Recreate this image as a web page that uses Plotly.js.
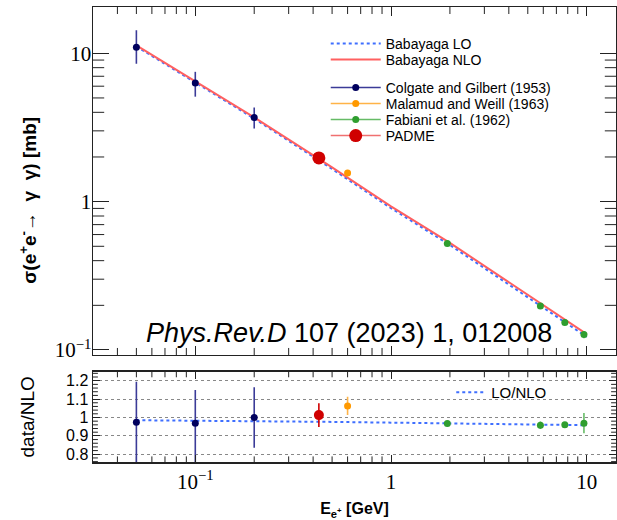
<!DOCTYPE html>
<html><head><meta charset="utf-8">
<script src="https://cdn.plot.ly/plotly-3.0.1.min.js"></script>
<style>html,body{margin:0;padding:0;background:#fff}</style>
</head><body><div id="chart" style="width:617px;height:520px"></div>
<script>
// Theory curves (Babayaga)
const energyTheory = [0.05, 0.1, 0.2, 0.5, 1, 2, 5, 10];
const sigmaNLO = [11.3, 6.5, 3.7, 1.7, 0.93, 0.527, 0.235, 0.128];
const sigmaLO = [11.13, 6.39, 3.63, 1.66, 0.904, 0.510, 0.226, 0.1226];
const ratioLOoverNLO = [0.985, 0.983, 0.981, 0.976, 0.972, 0.967, 0.961, 0.958];

// Colgate and Gilbert (1953)
const colgateE = [0.05, 0.1, 0.2];
const colgateSigma = [11.0, 6.3, 3.69];
const colgateErrUp = [3.3, 1.2, 0.62];
const colgateErrDown = [2.5, 1.2, 0.58];
const colgateRatio = [0.974, 0.969, 1.0];
const colgateRatioErrUp = [0.22, 0.18, 0.165];
const colgateRatioErrDown = [0.25, 0.23, 0.165];

// Malamud and Weill (1963)
const malamudE = [0.6];
const malamudSigma = [1.56];
const malamudErr = [0.075];
const malamudRatio = [1.063];
const malamudRatioErr = [0.05];

// Fabiani et al. (1962)
const fabianiE = [1.94, 5.8, 7.73, 9.68];
const fabianiSigma = [0.523, 0.198, 0.153, 0.127];
const fabianiErr = [0.006, 0.004, 0.003, 0.007];
const fabianiRatio = [0.967, 0.958, 0.961, 0.969];
const fabianiRatioErr = [0.012, 0.02, 0.015, 0.055];

// PADME
const padmeE = [0.428];
const padmeSigma = [1.97];
const padmeErr = [0.13];
const padmeRatio = [1.013];
const padmeRatioErr = [0.065];

// tick labels / tick positions
const logTickVals = [0.1, 1, 10];
const logTickText = ['10<sup>\u22121</sup>', '1', '10'];
const xMinorTicks = [0.04, 0.05, 0.06, 0.07, 0.08, 0.09, 0.2, 0.3, 0.4, 0.5, 0.6, 0.7, 0.8, 0.9,
                     2, 3, 4, 5, 6, 7, 8, 9];
const yMinorTicks = [0.2, 0.3, 0.4, 0.5, 0.6, 0.7, 0.8, 0.9, 2, 3, 4, 5, 6, 7, 8, 9];
const rTickVals = [0.8, 0.9, 1.0, 1.1, 1.2];
const rTickText = ['0.8', '0.9', '1', '1.1', '1.2'];
const rMinorTicks = [0.76, 0.78, 0.82, 0.84, 0.86, 0.88, 0.92, 0.94, 0.96, 0.98,
                     1.02, 1.04, 1.06, 1.08, 1.12, 1.14, 1.16, 1.18, 1.22, 1.24];

// axis ranges (log10 for log axes)
const xRange = [-1.5227, 1.1497];
const yRange = [-1.0337, 1.312];
const rRange = [0.758, 1.249];

// insert gaps so that lines+markers shows a legend line without joining points
function gaps(a) { const r = []; a.forEach((v, i) => { if (i) r.push(null); r.push(v); }); return r; }

const frame = '#222';
const navy = '#00005e', navyErr = '#3b3b98';
const orange = '#ff9900', orangeErr = '#ffb347';
const green = '#2f9e2f', greenErr = '#66bb66';
const red = '#d00000', redLine = '#f07070';

function dataTrace(name, xs, ys, up, down, col, errCol, size, legend) {
  return {
    type: 'scatter', mode: 'lines+markers', name: name,
    x: gaps(xs), y: gaps(ys), connectgaps: false,
    marker: {color: col, size: size},
    line: {color: errCol, width: 1.5},
    error_y: {type: 'data', symmetric: false, array: gaps(up), arrayminus: gaps(down),
              color: errCol, thickness: 1.6, width: 0},
    xaxis: 'x', yaxis: 'y', legend: legend
  };
}
function ratioTrace(xs, ys, up, down, col, errCol, size) {
  return {
    type: 'scatter', mode: 'markers', showlegend: false,
    x: xs, y: ys, marker: {color: col, size: size},
    error_y: {type: 'data', symmetric: false, array: up, arrayminus: down,
              color: errCol, thickness: 1.6, width: 0},
    xaxis: 'x2', yaxis: 'y2'
  };
}
// minor tick marks: short line markers sitting on a frame edge (half clipped away)
function minorTicks(vals, edgeVal, vertical, len, xa, ya) {
  const edge = vals.map(() => edgeVal);
  return {
    type: 'scatter', mode: 'markers', showlegend: false, hoverinfo: 'skip', cliponaxis: true,
    x: vertical ? vals : edge, y: vertical ? edge : vals,
    marker: {symbol: vertical ? 'line-ns' : 'line-ew', size: len * 2,
             color: frame, line: {width: 1, color: frame}},
    xaxis: xa, yaxis: ya
  };
}

const traces = [
  minorTicks(yMinorTicks, Math.pow(10, xRange[0]), false, 8, 'x', 'y'),
  minorTicks(yMinorTicks, Math.pow(10, xRange[1]), false, 8, 'x', 'y'),
  minorTicks(xMinorTicks, Math.pow(10, yRange[0]), true, 5, 'x', 'y'),
  minorTicks(xMinorTicks, Math.pow(10, yRange[1]), true, 5, 'x', 'y'),
  minorTicks(xMinorTicks, rRange[0], true, 4, 'x2', 'y2'),
  minorTicks(xMinorTicks, rRange[1], true, 4, 'x2', 'y2'),
  minorTicks(rMinorTicks, Math.pow(10, xRange[0]), false, 3.5, 'x2', 'y2'),
  minorTicks(rMinorTicks, Math.pow(10, xRange[1]), false, 3.5, 'x2', 'y2'),
  {type: 'scatter', mode: 'lines', name: 'Babayaga LO', x: energyTheory, y: sigmaLO,
   line: {color: '#3f6fff', dash: 'dot', width: 2}, xaxis: 'x', yaxis: 'y', legend: 'legend'},
  {type: 'scatter', mode: 'lines', name: 'Babayaga NLO', x: energyTheory, y: sigmaNLO,
   line: {color: '#ff6060', width: 2}, xaxis: 'x', yaxis: 'y', legend: 'legend2'},
  dataTrace('Colgate and Gilbert (1953)', colgateE, colgateSigma, colgateErrUp, colgateErrDown, navy, navyErr, 7, 'legend3'),
  dataTrace('Malamud and Weill (1963)', malamudE, malamudSigma, malamudErr, malamudErr, orange, orangeErr, 7, 'legend4'),
  dataTrace('Fabiani et al. (1962)', fabianiE, fabianiSigma, fabianiErr, fabianiErr, green, greenErr, 7, 'legend5'),
  dataTrace('PADME', padmeE, padmeSigma, padmeErr, padmeErr, red, redLine, 13, 'legend6'),
  {type: 'scatter', mode: 'lines', name: 'LO/NLO', x: energyTheory, y: ratioLOoverNLO,
   line: {color: '#3f6fff', dash: 'dot', width: 2}, xaxis: 'x2', yaxis: 'y2', legend: 'legend7'},
  ratioTrace(colgateE, colgateRatio, colgateRatioErrUp, colgateRatioErrDown, navy, navyErr, 7),
  ratioTrace(malamudE, malamudRatio, malamudRatioErr, malamudRatioErr, orange, orangeErr, 7),
  ratioTrace(fabianiE, fabianiRatio, fabianiRatioErr, fabianiRatioErr, green, greenErr, 7),
  ratioTrace(padmeE, padmeRatio, padmeRatioErr, padmeRatioErr, red, red, 10)
];

const baseAxis = {
  showline: true, linecolor: frame, linewidth: 1.5, mirror: 'allticks',
  ticks: 'inside', tickcolor: frame, tickwidth: 1, showgrid: false, zeroline: false,
  tickmode: 'array'
};
const serif = {family: 'Liberation Serif, Times New Roman, serif', size: 21, color: '#000'};

function legendAt(yPaper, xPaper, size) {
  return {x: xPaper, y: yPaper, xanchor: 'left', yanchor: 'top', bgcolor: 'rgba(0,0,0,0)',
          font: {size: size, color: '#000'}, itemwidth: 50, tracegroupgap: 0};
}
function pix(p) { return (462 - p) / 455; }

const layout = {
  width: 617, height: 520,
  margin: {l: 93, r: 1, t: 7, b: 58},
  paper_bgcolor: '#fff', plot_bgcolor: '#fff',
  font: {family: 'Liberation Sans, Arial, sans-serif', color: '#000'},
  xaxis: Object.assign({}, baseAxis, {
    type: 'log', range: xRange, domain: [0, 1], anchor: 'y',
    tickvals: logTickVals, showticklabels: false, ticklen: 9
  }),
  yaxis: Object.assign({}, baseAxis, {
    type: 'log', range: yRange, domain: [0.2352, 1], anchor: 'x',
    tickvals: logTickVals, ticktext: logTickText, ticklen: 16, tickfont: serif,
    ticklabelstandoff: -4
  }),
  xaxis2: Object.assign({}, baseAxis, {
    type: 'log', range: xRange, domain: [0, 1], anchor: 'y2',
    tickvals: logTickVals, ticktext: logTickText, ticklen: 7, tickfont: serif,
    title: {text: '<b>E<sub>e<sup>+</sup></sub> [GeV]</b>', font: {size: 16, color: '#000'}, standoff: 10}
  }),
  yaxis2: Object.assign({}, baseAxis, {
    range: rRange, domain: [0, 0.1985], anchor: 'x2',
    tickvals: rTickVals, ticktext: rTickText, ticklen: 7,
    tickfont: {size: 16, color: '#000'},
    showgrid: true, gridcolor: '#888', griddash: 'dot', gridwidth: 1,
    title: {text: 'data/NLO', font: {size: 19, color: '#000'}, standoff: 26}
  }),
  legend: legendAt(pix(28), 0.445, 14),
  legend2: legendAt(pix(44), 0.445, 14),
  legend3: legendAt(pix(72), 0.445, 14),
  legend4: legendAt(pix(88), 0.445, 14),
  legend5: legendAt(pix(104), 0.445, 14),
  legend6: legendAt(pix(120), 0.445, 14),
  legend7: Object.assign(legendAt(pix(376), 0.685, 15), {itemwidth: 30}),
  annotations: [
    {xref: 'paper', yref: 'paper', x: -0.125, y: 0.5758, xanchor: 'center', yanchor: 'middle',
     textangle: -90, showarrow: false,
     text: '<b>\u03c3(e<sup>+</sup>e<sup>-</sup>\u2192\u00a0 \u03b3\u00a0 \u03b3) [mb]</b>',
     font: {size: 19, color: '#000'}},
    {xref: 'paper', yref: 'paper', x: 0.4895, y: 0.2835, xanchor: 'center', yanchor: 'middle',
     showarrow: false, text: '<i>Phys.Rev.D</i> 107 (2023) 1, 012008',
     font: {size: 27, color: '#000'}}
  ]
};

Plotly.newPlot('chart', traces, layout, {displayModeBar: false, staticPlot: true});
</script></body></html>
